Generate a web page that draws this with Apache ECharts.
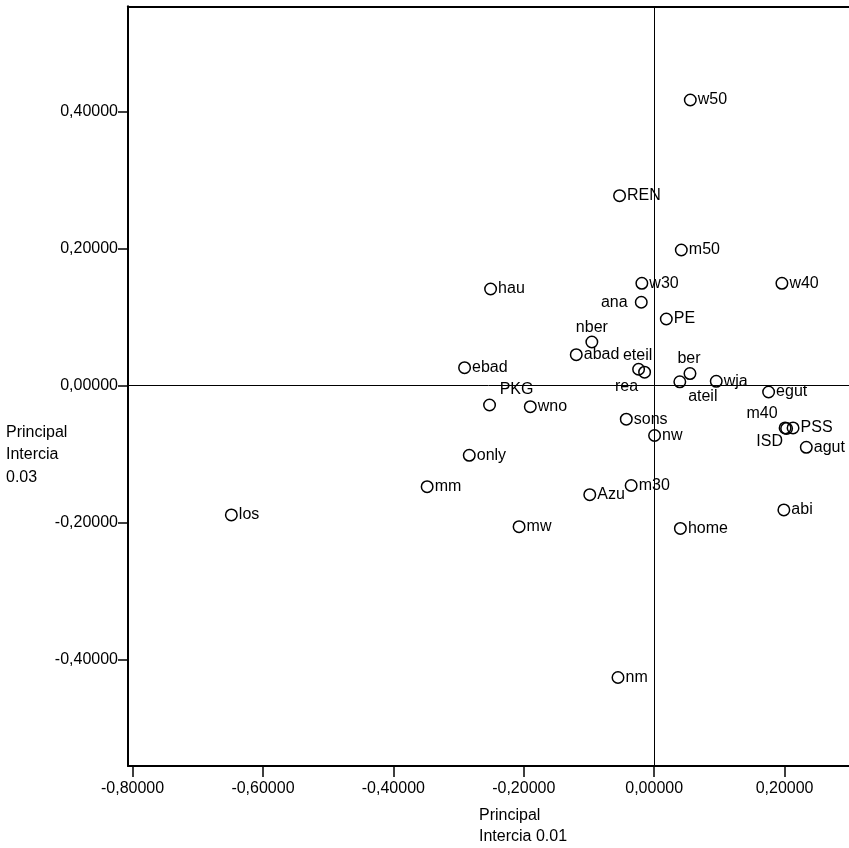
<!DOCTYPE html>
<html>
<head>
<meta charset="utf-8">
<script src="https://cdn.jsdelivr.net/npm/echarts@6/dist/echarts.min.js"></script>
<style>html,body{margin:0;padding:0;background:#fff}#c{width:849px;height:848px}</style>
</head>
<body>
<div id="c"></div>
<script>
// ---- data ----
const names = ["w50","REN","m50","w30","w40","hau","ana","PE","nber","abad","eteil","rea","ber","ateil","wja","egut","ebad","PKG","wno","sons","nw","m40","ISD","PSS","agut","only","mm","m30","Azu","los","mw","home","abi","nm"];
const xVals = [0.0554,-0.0531,0.0416,-0.0189,0.1959,-0.2509,-0.0198,0.0186,-0.0956,-0.1195,-0.0239,-0.0147,0.0549,0.0393,0.0952,0.1755,-0.2908,-0.2525,-0.1900,-0.0428,0.0006,0.2008,0.2031,0.2130,0.2333,-0.2836,-0.3482,-0.0353,-0.0988,-0.6485,-0.2072,0.0402,0.1989,-0.0555];
const yVals = [0.4165,0.2768,0.1975,0.1489,0.1489,0.1406,0.1212,0.0968,0.0632,0.0447,0.0234,0.0191,0.0171,0.0051,0.0058,-0.0098,0.0257,-0.0288,-0.0312,-0.0495,-0.0733,-0.0623,-0.0631,-0.0623,-0.0905,-0.1022,-0.1480,-0.1463,-0.1597,-0.1893,-0.2064,-0.2090,-0.1820,-0.4266];
const xTicks = [-0.8,-0.6,-0.4,-0.2,0,0.2];
const yTicks = [-0.4,-0.2,0,0.2,0.4];
const xName = "Principal\nIntercia 0.01";
const yName = "Principal\nIntercia\n0.03";

// ---- label placement (style) ----
const labelOffsets = {
  ana:[-27,0], nber:[0,-14], eteil:[-1,-14], ber:[-1,-15], rea:[-18,14.5],
  ateil:[23,15], PKG:[27,-15], m40:[-23,-14.7], ISD:[-17,13]
};
const FONT = "'Liberation Sans', Arial, sans-serif";
const fmt = v => v.toFixed(5).replace('.', ',');

const data = names.map((n,i) => {
  const off = labelOffsets[n];
  const label = off ? {position:'inside', offset:off, align:'center', color:'#000'} : {position:'right', distance:1, color:'#000'};
  return {name:n, value:[xVals[i], yVals[i]], label};
});

const chart = echarts.init(document.getElementById('c'), null, {renderer:'canvas'});
chart.setOption({
  backgroundColor:'#fff',
  animation:false,
  grid:{left:128, right:0, top:6.3, bottom:82, outerBoundsMode:'none'},
  xAxis:[{
    type:'value', min:-0.807, max:0.2988, position:'bottom',
    splitLine:{show:false},
    axisLine:{show:true, onZero:false, lineStyle:{color:'#000', width:2}},
    axisTick:{show:true, length:11, customValues:xTicks, lineStyle:{color:'#000', width:1.5}},
    axisLabel:{customValues:xTicks, formatter:fmt, color:'#000', fontSize:16, fontFamily:FONT, margin:15}
  },{
    type:'value', min:-0.807, max:0.2988, position:'top',
    splitLine:{show:false},
    axisLine:{show:true, onZero:false, lineStyle:{color:'#000', width:2}},
    axisTick:{show:false}, axisLabel:{show:false}
  }],
  yAxis:{
    type:'value', min:-0.5558, max:0.5533,
    splitLine:{show:false},
    axisLine:{show:true, onZero:false, lineStyle:{color:'#000', width:2}},
    axisTick:{show:true, length:10, customValues:yTicks, lineStyle:{color:'#000', width:1.5}},
    axisLabel:{customValues:yTicks, formatter:fmt, color:'#000', fontSize:16, fontFamily:FONT, margin:10}
  },
  graphic:[
    {type:'text', left:6, top:421, silent:true,
     style:{text:yName, font:"16px "+FONT, fill:'#000', lineHeight:22.5}},
    {type:'text', left:479, top:805, silent:true,
     style:{text:xName, font:"16px "+FONT, fill:'#000', lineHeight:21}}
  ],
  series:[{
    type:'scatter',
    xAxisIndex:0,
    symbol:'circle', symbolSize:11.5,
    itemStyle:{color:'rgba(0,0,0,0)', borderColor:'#000', borderWidth:1.5, opacity:1},
    label:{show:true, formatter:'{b}', color:'#000', fontSize:16, fontFamily:FONT, textBorderWidth:0},
    emphasis:{disabled:true},
    data:data,
    markLine:{
      silent:true, symbol:['none','none'], animation:false,
      label:{show:false},
      lineStyle:{color:'#000', width:1, type:'solid', opacity:1},
      data:[{xAxis:0},{yAxis:0}]
    },
    z:3
  }]
});
</script>
</body>
</html>
